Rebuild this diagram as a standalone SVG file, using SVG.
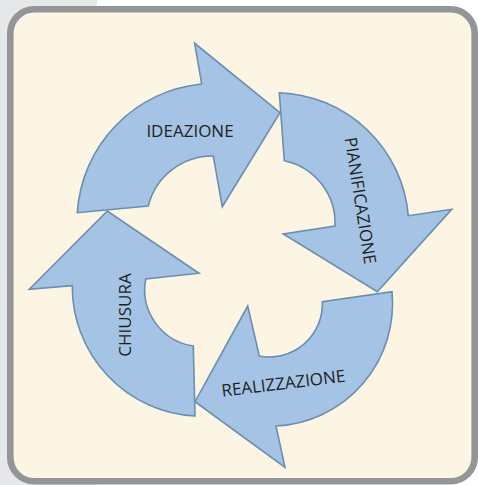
<svg xmlns="http://www.w3.org/2000/svg" width="478" height="485" viewBox="0 0 478 485">
<style>
.arrow{fill:#a5c3e4;stroke:#6a8fae;stroke-width:1.6;stroke-linejoin:miter}
.lbl{font-family:"Open Sans","Noto Sans","Liberation Sans",sans-serif;font-size:17px;fill:#231f20;text-anchor:middle}
</style>
<rect x="0" y="0" width="478" height="485" fill="#ffffff"/>
<rect x="0" y="0" width="97" height="485" fill="#e6e7e8"/>
<rect id="frame" x="10.3" y="9.3" width="464.4" height="472" rx="24" ry="24" fill="#fdf5e4" stroke="#939598" stroke-width="6.6"/>
<g id="connectors"></g>
<g id="ideazione">
<path class="arrow" d="M77.3,212.7 A138,138 0 0 1 201.7,84 L194.7,43.3 L280,112.7 L222.3,206.7 L213.3,156 A66,66 0 0 0 148.3,206 Z"/>
<text class="lbl" x="190" y="137.3">IDEAZIONE</text>
</g>
<g id="pianificazione">
<path class="arrow" d="M279.3,92.7 A134.5,134.5 0 0 1 408.3,215.7 L451.7,209.3 L377.3,291.7 L283.3,234 L335,226 A64,64 0 0 0 284.3,160.7 Z"/>
<text class="lbl" transform="translate(360.5,200.7) rotate(81)" y="6">PIANIFICAZIONE</text>
</g>
<g id="realizzazione">
<path class="arrow" d="M392,291.7 A122.6,122.6 0 0 1 276,426 L285,467.3 L195,401.7 L247.7,306 L259.3,356 A53,53 0 0 0 322.3,301.7 Z"/>
<text class="lbl" transform="translate(283.3,383.2) rotate(-7)" y="6">REALIZZAZIONE</text>
</g>
<g id="chiusura">
<path class="arrow" d="M195,416 A129.5,129.5 0 0 1 72.3,285.7 L29.3,289.3 L107.3,211 L199,273.3 L145.7,279 A57,57 0 0 0 193.3,346 Z"/>
<text class="lbl" transform="translate(125,315) rotate(-90)" y="6">CHIUSURA</text>
</g>
</svg>
